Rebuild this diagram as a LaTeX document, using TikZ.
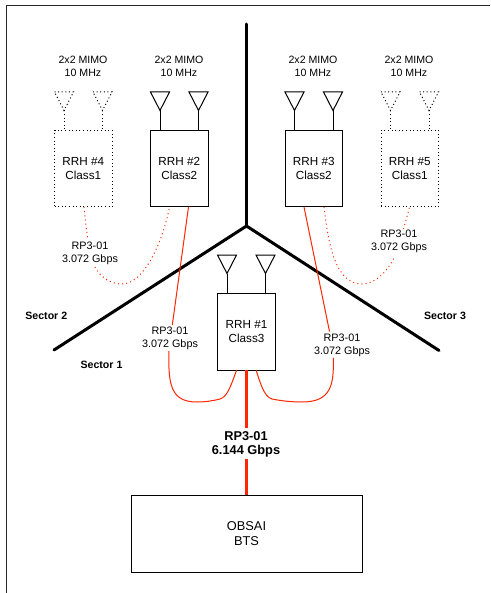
\documentclass[tikz,border=0pt]{standalone}
\usepackage{fontspec}
\setmainfont{Liberation Sans}
\definecolor{linkred}{RGB}{255,38,0}
\tikzset{
  radio/.style={draw=black,line width=1pt,inner sep=0pt,minimum width=57.5pt,minimum height=76.5pt,align=center,font=\fontsize{11.7}{14}\selectfont},
  radiodot/.style={radio,dash pattern=on 1pt off 2.6pt},
  bts/.style={draw=black,line width=1pt,inner sep=0pt,minimum width=231pt,minimum height=77pt,align=center,font=\fontsize{12.8}{15.2}\selectfont},
  mimo/.style={align=center,inner sep=0pt,font=\fontsize{10.6}{13}\selectfont},
  rate/.style={align=center,inner sep=0pt,font=\fontsize{10.8}{12.8}\selectfont},
  boldrate/.style={align=center,inner sep=0pt,font=\fontsize{12.8}{14.4}\selectfont\bfseries},
  sector/.style={inner sep=0pt,font=\fontsize{10.6}{13}\selectfont\bfseries},
  mast/.style={line width=3pt,draw=black,line cap=round},
  ant/.style={draw=black,line width=1pt,line join=miter},
  antdot/.style={ant,dash pattern=on 1pt off 2.6pt},
  thin red/.style={draw=linkred,line width=1pt},
  dot red/.style={draw=linkred,line width=1pt,dash pattern=on 1pt off 3.2pt},
  trunk/.style={draw=linkred,line width=3.6pt}
}
\newcommand{\antennaat}[4]{% style, apex x, apex y (box top known), box top y
  \draw[#1] (#2-9.5,#3-18.5) -- (#2+9.5,#3-18.5) -- (#2,#3) -- cycle;
  \draw[#1] (#2,#3) -- (#2,#4);
}
\begin{document}
\begin{tikzpicture}[x=1pt,y=-1pt]
\useasboundingbox (0,0) rectangle (490,593);
\fill[white] (0,0) rectangle (490,593);
% frame
\coordinate (fa) at (6.5,593);
\coordinate (fb) at (6.5,5.5);
\coordinate (fc) at (490,5.5);
\draw[black!85,line width=1pt] (fa) -- (fb) -- (fc);
% sector lines
\coordinate (hub) at (246.5,226);
\coordinate (mt) at (246.5,24);
\coordinate (ml) at (54,350);
\coordinate (mr) at (439,350.5);
\draw[mast] (mt) -- (hub);
\draw[mast] (ml) -- (hub) -- (mr);
% boxes
\node[radiodot] (r4) at (83.25,168.75) {RRH \#4\\Class1};
\node[radio] (r2) at (179.25,168.75) {RRH \#2\\Class2};
\node[radio] (r3) at (313.75,168.75) {RRH \#3\\Class2};
\node[radiodot] (r5) at (409.75,168.75) {RRH \#5\\Class1};
\node[radio,fill=white] (r1) at (246.5,331.75) {RRH \#1\\Class3};
\node[bts] (b) at (246.5,533.5) {OBSAI\\BTS};
% antennas
\antennaat{antdot}{64}{110.5}{130.5}
\antennaat{antdot}{102.5}{110.5}{130.5}
\antennaat{ant}{160}{110.5}{130.5}
\antennaat{ant}{198.5}{110.5}{130.5}
\antennaat{ant}{294.5}{110.5}{130.5}
\antennaat{ant}{333}{110.5}{130.5}
\antennaat{antdot}{390.5}{110.5}{130.5}
\antennaat{antdot}{429}{110.5}{130.5}
\antennaat{ant}{227}{273.5}{293.5}
\antennaat{ant}{265.5}{273.5}{293.5}
% top labels
\node[mimo] (m4) at (83,66.5) {2x2 MIMO\\10 MHz};
\node[mimo] (m2) at (179,66.5) {2x2 MIMO\\10 MHz};
\node[mimo] (m3) at (313,66.5) {2x2 MIMO\\10 MHz};
\node[mimo] (m5) at (409,66.5) {2x2 MIMO\\10 MHz};
% rate labels
\node[rate] (l24) at (90,253.5) {RP3-01\\3.072 Gbps};
\node[rate] (l35) at (399,241.5) {RP3-01\\3.072 Gbps};
\node[rate] (l12) at (170,338.5) {RP3-01\\3.072 Gbps};
\node[rate] (l13) at (342,345.5) {RP3-01\\3.072 Gbps};
\node[boldrate] (lt) at (246,444.5) {RP3-01\\6.144 Gbps};
% sector labels
\node[sector] (s2) at (46.3,315.5) {Sector 2};
\node[sector] (s1) at (101.5,364.5) {Sector 1};
\node[sector] (s3) at (445,315.5) {Sector 3};
% connector ends
\coordinate (r4s) at (84,207);
\coordinate (r2a) at (169.5,207);
\coordinate (r2b) at (188.5,207);
\coordinate (r3a) at (304,207);
\coordinate (r3b) at (324,207);
\coordinate (r5s) at (409.5,207);
\coordinate (r1a) at (236.7,370);
\coordinate (r1b) at (256,370);
\coordinate (g24a) at (88,240);
\coordinate (g24b) at (95,267);
\coordinate (g35a) at (394,258);
\coordinate (g35b) at (403.5,229);
\coordinate (g12a) at (172.3,325);
\coordinate (g12b) at (169,351);
\coordinate (g13a) at (329.5,331.5);
\coordinate (g13b) at (333.3,358);
% dotted red links
\draw[dot red] (r4s) .. controls (85.5,222) and (86.5,232) .. (g24a);
\draw[dot red] (g24b) .. controls (101,278) and (111,284) .. (122,284) .. controls (143,284) and (162,245) .. (r2a);
\draw[dot red] (r3b) .. controls (328,240) and (334,284) .. (362,284) .. controls (375,284) and (387,272) .. (g35a);
\draw[dot red] (g35b) .. controls (405,223) and (408,214) .. (r5s);
% solid red links
\draw[thin red] (r2b) -- (g12a);
\draw[thin red] (g12b) .. controls (168,385) and (171,402) .. (197,402) .. controls (205,402) and (212,401) .. (220,399) .. controls (228,397) and (232,382) .. (r1a);
\draw[thin red] (r3a) -- (g13a);
\draw[thin red] (g13b) .. controls (334,385) and (331,402) .. (302,402) .. controls (292,402) and (282,401) .. (272,399) .. controls (264,397) and (260,382) .. (r1b);
% trunk
\coordinate (r1c) at (246.5,370);
\coordinate (gta) at (246.5,428);
\coordinate (gtb) at (246.5,459);
\coordinate (btc) at (246.5,495);
\draw[trunk] (r1c) -- (gta);
\draw[trunk] (gtb) -- (btc);
\end{tikzpicture}
\end{document}
